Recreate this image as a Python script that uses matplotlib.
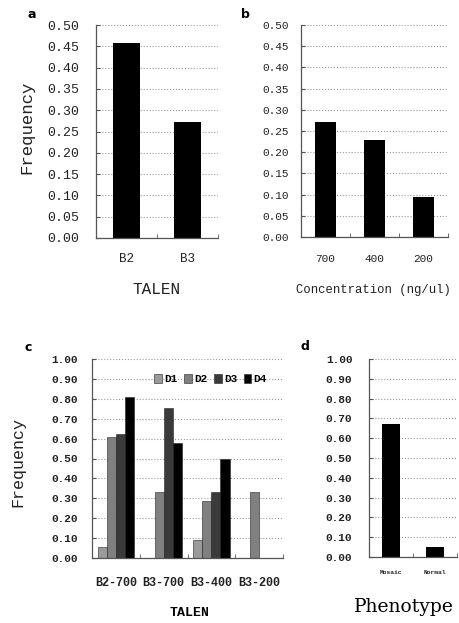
import matplotlib
matplotlib.use('Agg')
from matplotlib import pyplot as plt
from matplotlib.patches import Patch
import numpy as np

# panel a
a_cats = ['B2', 'B3']
a_vals = [0.458, 0.272]
# panel b
b_cats = ['700', '400', '200']
b_vals = [0.271, 0.229, 0.095]
# panel c
c_cats = ['B2-700', 'B3-700', 'B3-400', 'B3-200']
c_series = ['D1', 'D2', 'D3', 'D4']
c_d1 = [0.055, 0.0, 0.089, 0.0]
c_d2 = [0.610, 0.333, 0.287, 0.333]
c_d3 = [0.623, 0.753, 0.333, 0.0]
c_d4 = [0.807, 0.580, 0.500, 0.0]
# panel d
d_cats = ['Mosaic', 'Normal']
d_vals = [0.672, 0.050]

W, H = 459, 623
fig = plt.figure(figsize=(W / 100, H / 100), dpi=100)


def box(l, r, t, b):
    return [l / W, 1 - b / H, (r - l) / W, (b - t) / H]


def style_ax(ax, ncat, ymax, step, fmt_font, ypad, xpad):
    for s in ['top', 'right']:
        ax.spines[s].set_visible(False)
    for s in ['left', 'bottom']:
        ax.spines[s].set_color('#555555')
        ax.spines[s].set_linewidth(0.9)
    ax.set_xlim(-0.5, ncat - 0.5)
    ax.set_ylim(0, ymax)
    ticks = np.arange(0, ymax + step / 2, step)
    ax.set_yticks(ticks)
    ax.set_yticklabels(['%.2f' % t for t in ticks], **fmt_font)
    ax.yaxis.grid(True, linestyle=':', color='#999999', linewidth=0.8)
    ax.set_axisbelow(True)
    ax.tick_params(axis='y', direction='in', length=3, pad=ypad, color='#555555',
                   labelcolor='#222222')
    ax.tick_params(axis='x', which='major', length=0, pad=xpad, labelcolor='#222222')
    ax.set_xticks(np.arange(0.5, ncat - 0.4, 1), minor=True)
    ax.tick_params(axis='x', which='minor', direction='in', length=3, color='#555555')


# a
ax = fig.add_axes(box(96, 218, 25, 238))
ax.bar(np.arange(len(a_cats)), a_vals, width=0.43, color='black')
style_ax(ax, 2, 0.5, 0.05, dict(family='Liberation Mono', fontsize=9.5), 12, 11)
ax.set_xticks(np.arange(len(a_cats)))
ax.set_xticklabels(a_cats, family='Liberation Mono', fontsize=9)
fig.text(156 / W, 1 - 290 / H, 'TALEN', family='Liberation Mono', fontsize=11.5,
         ha='center', va='center', color='#222222')
fig.text(27 / W, 1 - 127 / H, 'Frequency', family='Liberation Mono', fontsize=12.5,
         rotation=90, ha='center', va='center', color='#222222')
fig.text(32 / W, 1 - 15 / H, 'a', fontsize=9, weight='bold', ha='center', va='center')

# b
ax = fig.add_axes(box(301, 448, 25, 237))
ax.bar(np.arange(len(b_cats)), b_vals, width=0.41, color='black')
style_ax(ax, 3, 0.5, 0.05, dict(family='Liberation Mono', fontsize=8), 9, 12)
ax.set_xticks(np.arange(len(b_cats)))
ax.set_xticklabels(b_cats, family='Liberation Mono', fontsize=8)
fig.text(373 / W, 1 - 290 / H, 'Concentration (ng/ul)', family='Liberation Mono',
         fontsize=8.8, ha='center', va='center', color='#222222')
fig.text(245 / W, 1 - 15 / H, 'b', fontsize=9, weight='bold', ha='center', va='center')

# c
ax = fig.add_axes(box(92, 283, 359, 558))
x = np.arange(len(c_cats))
bw = 0.19
colors = ['#9a9a9a', '#808080', '#3a3a3a', '#000000']
for i, (vals, lab) in enumerate(zip([c_d1, c_d2, c_d3, c_d4], c_series)):
    ax.bar(x + (i - 1.5) * bw, vals, width=bw, color=colors[i],
           edgecolor='#222222', linewidth=0.4, label=lab)
bold_mono = dict(family='Liberation Mono', fontsize=8, weight='bold')
style_ax(ax, 4, 1.0, 0.1, bold_mono, 10, 14)
ax.set_xticks(x)
ax.set_xticklabels(c_cats, family='Liberation Mono', fontsize=8.5, weight='bold')
handles = [Patch(facecolor=colors[i], edgecolor='#222222', linewidth=0.4, label=c_series[i])
           for i in range(4)]
ax.legend(handles=handles, ncol=4, frameon=False, loc='upper center',
          bbox_to_anchor=(0.62, 0.975), handlelength=0.7, handleheight=0.9,
          handletextpad=0.2, columnspacing=0.6,
          prop=dict(family='Liberation Mono', size=8, weight='bold'))
fig.text(190 / W, 1 - 613 / H, 'TALEN', family='Liberation Mono', fontsize=9.5,
         weight='bold', ha='center', va='center')
fig.text(18 / W, 1 - 462 / H, 'Frequency', family='Liberation Mono', fontsize=12,
         rotation=90, ha='center', va='center', color='#222222')
fig.text(28 / W, 1 - 348 / H, 'c', fontsize=9, weight='bold', ha='center', va='center')

# d
ax = fig.add_axes(box(369, 457, 359, 557))
ax.bar(np.arange(len(d_cats)), d_vals, width=0.43, color='black')
style_ax(ax, 2, 1.0, 0.1, dict(family='Liberation Mono', fontsize=8, weight='bold'), 12, 9)
ax.set_xticks(np.arange(len(d_cats)))
ax.set_xticklabels(d_cats, family='Liberation Mono', fontsize=4.5, weight='bold')
fig.text(404 / W, 1 - 607 / H, 'Phenotype', family='DejaVu Serif', fontsize=13.5,
         ha='center', va='center')
fig.text(305 / W, 1 - 347 / H, 'd', fontsize=9, weight='bold', ha='center', va='center')

fig.savefig('out.png', dpi=100)
